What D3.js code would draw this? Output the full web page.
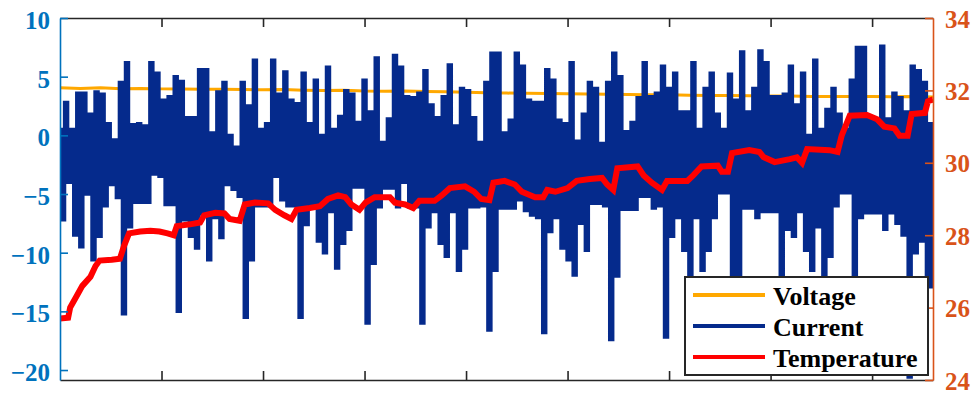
<!DOCTYPE html>
<html>
<head>
<meta charset="utf-8">
<script src="https://cdn.jsdelivr.net/npm/d3@7"></script>
<style>
  body { margin: 0; background: #fff; }
  svg text { font-family: "Liberation Serif", "Times New Roman", serif !important; font-weight: bold; }
</style>
</head>
<body>
<div id="chart"></div>
<script>
// current: upper and lower values of each oscillation burst, one pair every 6 samples
const currentStep = 6;
const currentHigh = [
  0.5, 2.8, 0.5, 3.6, 3.6, 1.8, 3.7, 3.5, 1.0, -0.4,
  4.5, 6.2, 0.9, 1.0, 0.8, 6.2, 5.3, 3.0, 3.3, 5.0,
  4.6, 1.5, 1.5, 5.6, 5.6, 0.2, 3.7, 4.5, 0.0, -1.0,
  4.5, 2.5, 6.4, 0.5, 1.0, 6.4, 3.5, 5.4, 3.0, 2.7,
  5.3, 1.0, 4.7, 0.0, 5.8, 0.5, 1.6, 3.8, 3.5, 1.1,
  4.7, 2.0, 6.6, -0.6, 1.4, 6.8, 5.8, 3.3, 3.2, 3.6,
  5.5, 2.6, 1.5, 3.3, 6.0, 0.8, 4.0, 3.8, 1.5, -0.6,
  4.5, 7.0, 7.0, 0.2, 1.3, 7.0, 5.9, 3.0, 2.8, 2.8,
  5.6, 4.7, 1.3, 1.0, 6.2, -0.5, 1.8, 4.5, 4.0, -0.7,
  4.5, 7.0, 5.0, 0.3, 1.1, 3.2, 6.2, 3.3, 3.6, 5.9,
  4.0, 5.3, 2.0, 2.0, 6.2, 0.5, 4.0, 5.3, 1.8, 0.5,
  5.2, 3.0, 7.1, 2.0, 4.0, 7.2, 6.2, 3.3, 3.3, 3.5,
  5.9, 2.6, 5.3, 0.0, 6.4, 0.5, 2.2, 4.0, 1.8, 0.5,
  4.7, 7.5, 7.5, 1.4, 1.2, 7.6, 1.4, 3.6, 3.2, 2.0,
  5.9, 5.5, 4.5, 1.0
];
const currentLow = [
  -7.2, -4.0, -8.5, -9.5, -5.0, -10.6, -8.6, -6.0, -4.2, -5.3,
  -15.2, -7.8, -5.7, -5.7, -5.7, -3.3, -3.5, -5.9, -5.9, -15.0,
  -7.2, -8.6, -9.6, -6.7, -10.6, -7.0, -8.7, -4.2, -4.6, -5.2,
  -15.5, -10.6, -6.0, -6.0, -6.0, -3.5, -5.5, -6.0, -6.0, -15.5,
  -7.6, -6.0, -9.0, -10.0, -6.5, -11.3, -9.2, -8.0, -4.4, -4.4,
  -16.0, -10.9, -6.1, -4.5, -4.5, -6.1, -4.0, -6.1, -6.1, -16.0,
  -7.8, -6.5, -9.2, -10.3, -6.5, -11.5, -9.6, -6.1, -6.1, -6.0,
  -16.6, -11.5, -6.2, -6.2, -6.2, -5.5, -6.4, -6.8, -7.0, -16.8,
  -8.2, -7.0, -9.6, -10.6, -11.9, -7.5, -9.8, -5.8, -5.8, -6.0,
  -17.4, -12.0, -6.3, -6.3, -6.3, -5.2, -5.2, -6.2, -6.0, -17.2,
  -8.6, -7.0, -9.8, -13.0, -7.0, -11.5, -9.8, -7.0, -4.9, -4.9,
  -12.0, -12.0, -6.2, -6.2, -7.0, -6.5, -6.5, -6.5, -13.0, -8.0,
  -8.6, -6.5, -9.8, -11.5, -7.8, -12.0, -10.3, -6.0, -4.9, -4.9,
  -15.0, -7.0, -6.6, -6.6, -6.6, -8.0, -6.6, -7.5, -8.5, -20.6,
  -10.0, -9.0, -12.9, -12.9
];

const voltageTime = [0, 20, 40, 60, 80, 100, 120, 140, 160, 180, 200, 220, 240, 260, 280,
  300, 320, 340, 360, 380, 400, 420, 440, 460, 480, 500, 520, 540, 560, 580,
  600, 620, 640, 660, 680, 700, 720, 740, 760, 780, 800, 820, 840, 860];
const voltageValue = [4.05, 4.0, 4.05, 3.98, 4.0, 3.96, 3.95, 3.92, 3.93, 3.9, 3.88, 3.9, 3.85, 3.82, 3.84,
  3.78, 3.76, 3.78, 3.74, 3.72, 3.68, 3.62, 3.6, 3.58, 3.56, 3.55, 3.52, 3.5, 3.48, 3.46,
  3.45, 3.42, 3.4, 3.4, 3.38, 3.36, 3.35, 3.32, 3.32, 3.3, 3.3, 3.28, 3.3, 3.26];

const tempTime = [0, 8, 10, 16, 22, 30, 35, 39, 51, 59, 63, 68, 79, 89, 98, 106, 112, 115, 128, 138,
  142, 153, 162, 167, 177, 182, 192, 205, 212, 221, 228, 233, 246, 256, 264, 274, 281, 287, 295, 301,
  310, 325, 330, 340, 348, 354, 369, 376, 384, 399, 408, 415, 423, 427, 438, 448, 455, 468, 476, 480,
  488, 500, 509, 522, 534, 539, 545, 549, 569, 575, 583, 593, 598, 618, 624, 632, 648, 652, 658, 662,
  679, 689, 693, 704, 719, 726, 731, 736, 758, 766, 770, 778, 795, 805, 812, 822, 827, 835, 839, 852,
  855, 860];
const tempValue = [25.7, 25.72, 26.0, 26.3, 26.6, 26.85, 27.15, 27.3, 27.32, 27.35, 27.7, 28.05, 28.1, 28.12, 28.1, 28.05, 28.0, 28.25, 28.3, 28.35,
  28.55, 28.62, 28.6, 28.45, 28.4, 28.85, 28.9, 28.88, 28.7, 28.55, 28.45, 28.7, 28.75, 28.8, 29.0, 29.1, 29.05, 28.85, 28.7, 28.9,
  29.05, 29.05, 28.9, 28.85, 28.75, 28.95, 28.95, 29.1, 29.3, 29.35, 29.2, 29.0, 28.97, 29.45, 29.5, 29.4, 29.2, 29.05, 29.05, 29.25,
  29.2, 29.3, 29.5, 29.55, 29.58, 29.4, 29.25, 29.85, 29.9, 29.65, 29.45, 29.25, 29.5, 29.5, 29.66, 29.9, 29.92, 29.75, 29.75, 30.27,
  30.35, 30.3, 30.16, 30.02, 30.1, 30.15, 30.0, 30.38, 30.35, 30.3, 30.75, 31.3, 31.32, 31.2, 31.0, 30.95, 30.75, 30.75, 31.35, 31.38,
  31.7, 31.75];

const leftTicks = [-20, -15, -10, -5, 0, 5, 10];
const rightTicks = [24, 26, 28, 30, 32, 34];
const xTicks = [100, 200, 300, 400, 500, 600, 700, 800];
const seriesNames = ["Voltage", "Current", "Temperature"];
const seriesColors = ["#ffa800", "#052a8c", "#ff0000"];

const width = 975, height = 393;
const plot = { left: 60, right: 933, top: 18, bottom: 380 };
const serif = '"Liberation Serif", "Times New Roman", serif';

const svg = d3.select("#chart").append("svg")
  .attr("width", width)
  .attr("height", height);

const x = d3.scaleLinear().domain([0, 860]).range([plot.left, plot.right]);
const yLeft = d3.scaleLinear().domain([-20.85, 10]).range([plot.bottom, plot.top]);
const yRight = d3.scaleLinear().domain([24, 34]).range([plot.bottom, plot.top]);

svg.append("clipPath").attr("id", "clip")
  .append("rect")
  .attr("x", plot.left).attr("y", plot.top)
  .attr("width", plot.right - plot.left).attr("height", plot.bottom - plot.top);

const lines = svg.append("g").attr("clip-path", "url(#clip)");

// voltage
const voltage = voltageTime.map((t, i) => ({ t: t, v: voltageValue[i] }));
lines.append("path")
  .datum(voltage)
  .attr("fill", "none")
  .attr("stroke", seriesColors[0])
  .attr("stroke-width", 3)
  .attr("d", d3.line().x(d => x(d.t)).y(d => yLeft(d.v)));

// current: high value then low value for each burst
const current = [];
currentHigh.forEach((h, i) => {
  current.push({ t: i * currentStep, v: h });
  current.push({ t: i * currentStep + currentStep / 2, v: currentLow[i] });
});
lines.append("path")
  .datum(current)
  .attr("fill", "none")
  .attr("stroke", seriesColors[1])
  .attr("stroke-width", 3.4)
  .attr("d", d3.line().curve(d3.curveStep).x(d => x(d.t)).y(d => yLeft(d.v)));

// temperature
const temp = tempTime.map((t, i) => ({ t: t, v: tempValue[i] }));
lines.append("path")
  .datum(temp)
  .attr("fill", "none")
  .attr("stroke", seriesColors[2])
  .attr("stroke-width", 6)
  .attr("d", d3.line().x(d => x(d.t)).y(d => yRight(d.v)));

// frame: top and bottom
const frameColor = "#262626";
const bottomAxis = svg.append("g")
  .attr("transform", `translate(0,${plot.bottom})`)
  .call(d3.axisBottom(x).tickValues(xTicks).tickSize(-9).tickSizeOuter(0).tickFormat(""));
const topAxis = svg.append("g")
  .attr("transform", `translate(0,${plot.top})`)
  .call(d3.axisTop(x).tickValues(xTicks).tickSize(-9).tickSizeOuter(0).tickFormat(""));
[bottomAxis, topAxis].forEach(g => {
  g.selectAll("path, line").attr("stroke", frameColor).attr("stroke-width", 1.6);
});

// left axis
const leftAxis = svg.append("g")
  .attr("transform", `translate(${plot.left},0)`)
  .call(d3.axisLeft(yLeft).tickValues(leftTicks).tickSize(-8).tickSizeOuter(0).tickPadding(10));
leftAxis.selectAll("path, line").attr("stroke", "#0072bd").attr("stroke-width", 1.6);
leftAxis.selectAll("text")
  .attr("fill", "#0072bd").attr("dy", "0.42em")
  .style("font-family", serif).style("font-weight", "bold").style("font-size", "25px");

// right axis
const rightAxis = svg.append("g")
  .attr("transform", `translate(${plot.right},0)`)
  .call(d3.axisRight(yRight).tickValues(rightTicks).tickSize(-8).tickSizeOuter(0).tickPadding(12));
rightAxis.selectAll("path, line").attr("stroke", "#d95319").attr("stroke-width", 1.6);
rightAxis.selectAll("text")
  .attr("fill", "#d95319").attr("dy", "0.36em")
  .style("font-family", serif).style("font-weight", "bold").style("font-size", "25px");
svg.selectAll(".domain").attr("fill", "none");

// legend
const legend = svg.append("g").attr("transform", "translate(685,277)");
legend.append("rect")
  .attr("width", 243).attr("height", 98)
  .attr("fill", "#fff")
  .attr("stroke", frameColor)
  .attr("stroke-width", 2);
const items = legend.selectAll("g.item")
  .data(seriesNames)
  .enter().append("g")
  .attr("class", "item")
  .attr("transform", (d, i) => `translate(0,${18 + i * 31})`);
items.append("line")
  .attr("x1", 8).attr("x2", 80)
  .attr("stroke", (d, i) => seriesColors[i])
  .attr("stroke-width", 4);
items.append("text")
  .attr("x", 88).attr("y", 10)
  .attr("font-size", 26)
  .attr("fill", "#000")
  .text(d => d);
</script>
</body>
</html>
